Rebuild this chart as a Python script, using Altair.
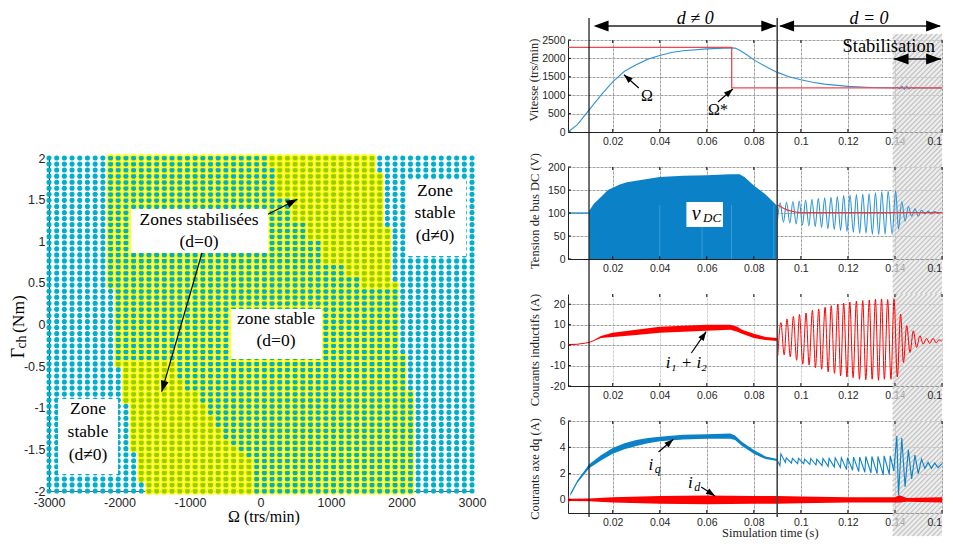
import math
import altair as alt
import pandas as pd

# ---------- left panel data ----------
omega_grid = [-3000,-2891,-2782,-2673,-2564,-2455,-2345,-2236,-2127,-2018,-1909,-1800,-1691,-1582,-1473,-1364,-1255,-1145,-1036,-927,-818,-709,-600,-491,-382,-273,-164,-55,55,164,273,382,491,600,709,818,927,1036,1145,1255,1364,1473,1582,1691,1800,1909,2018,2127,2236,2345,2455,2564,2673,2782,2891,3000]
gamma_grid = [2.0,1.927,1.855,1.782,1.709,1.636,1.564,1.491,1.418,1.345,1.273,1.2,1.127,1.055,0.982,0.909,0.836,0.764,0.691,0.618,0.545,0.473,0.4,0.327,0.255,0.182,0.109,0.036,-0.036,-0.109,-0.182,-0.255,-0.327,-0.4,-0.473,-0.545,-0.618,-0.691,-0.764,-0.836,-0.909,-0.982,-1.055,-1.127,-1.2,-1.273,-1.345,-1.418,-1.491,-1.564,-1.636,-1.709,-1.782,-1.855,-1.927,-2.0]
# per row (top to bottom): first and last stable column of the yellow zone
yellow_first = [8]*22 + [9]*13 + [10]*6 + [11]*8 + [12]*5 + [13]*2
yellow_last = [42]*3 + [43]*9 + [44]*9 + [45]*12 + [46]*6 + [47]*17
# upper green zone: row -> first column (last = yellow_last)
green_up_first = [29,29,30,30,30,30,30,32,32,32,32,34,34,34,36,36,36,36,39,39,41,41]
# lower green zone: rows 34..55 -> last column (first = yellow_first)
green_low_last = [16,16,16,17,17,19,19,20,20,21,21,22,22,23,24,25,26,26,26,26,26,26]

# ---------- right panel data ----------
omega_t = [0.001,0.005,0.01,0.015,0.02,0.025,0.03,0.035,0.04,0.045,0.05,0.06,0.07,0.072,0.074,0.077,0.08,0.085,0.09,0.095,0.1,0.105,0.11,0.12,0.13,0.14,0.141,0.142,0.143,0.144,0.145,0.146,0.147,0.148,0.149,0.15,0.16]
omega_v = [0,200,600,1000,1360,1650,1830,1980,2080,2160,2210,2260,2285,2280,2220,2100,1960,1780,1620,1500,1420,1350,1300,1240,1210,1195,1215,1175,1240,1160,1240,1170,1220,1180,1210,1195,1195]
ref_t = [0.001,0.0706,0.0706,0.16]
ref_v = [2300,2300,1200,1200]

vdc_flat_t = [0.001,0.01]
vdc_flat_v = [100,100]
vdc_env_t = [0.01,0.012,0.015,0.018,0.02,0.023,0.026,0.03,0.04,0.05,0.06,0.07,0.074,0.076,0.08,0.085,0.09]
vdc_env_v = [105,120,135,150,155,162,167,170,178,181,182,184,184,178,160,140,115]
vdc_light_t = [0.04,0.058,0.0705,0.0885]
vdc_pk_t = [0.0912,0.0939,0.0966,0.0993,0.102,0.1047,0.1074,0.1101,0.1128,0.1155,0.1182,0.1209,0.1236,0.1263,0.129,0.1317,0.1344,0.1371,0.1403,0.1429,0.1457,0.1485,0.1513,0.1541,0.1569,0.1597]
vdc_pk_v = [122,124,125,126,128,130,132,133,134,136,138,139,140,141,142,144,146,147,148,125,114,109,106,104,103,102]
vdc_tr_t = [0.09,0.0926,0.0953,0.098,0.1007,0.1034,0.1061,0.1088,0.1115,0.1142,0.1169,0.1196,0.1223,0.125,0.1277,0.1304,0.1331,0.1358,0.1388,0.1415,0.1443,0.1471,0.1499,0.1527,0.1555,0.1583]
vdc_tr_v = [82,80,78,76,74,72,70,68,66,64,62,60,58,56,56,54,53,54,54,65,82,93,93,98,98,99]
vdc_ref_t = [0.09,0.092,0.094,0.096,0.098,0.1,0.16]
vdc_ref_v = [118,112,107,104,102,101,101]

il_t = [0.001,0.005,0.01,0.012,0.015,0.02,0.03,0.04,0.05,0.06,0.07,0.073,0.075,0.08,0.085,0.09]
il_up = [0.5,0.7,1.5,2.5,4.5,6,7.5,9,9.5,10,10,9,7.5,5.5,4,3.5]
il_lo = [-0.1,0.2,1,2,3.5,4,5,6,6.5,7,7.5,6.5,5.5,3.5,2.5,2]
il_pk_t = [0.0915,0.0941,0.0968,0.0994,0.1022,0.1049,0.1076,0.1103,0.1129,0.1157,0.1182,0.1208,0.1236,0.1263,0.1291,0.1317,0.1343,0.1369,0.1396,0.1424,0.145,0.1478,0.1506,0.1534,0.1562,0.1587]
il_pk_v = [11,12.8,14,15,15.7,17,17.7,18.5,19.3,20,20.5,21,21.5,21.8,22,22.4,22.6,22.3,22.5,15.2,9.5,7,4.6,3.3,3.3,2.6]
il_tr_t = [0.0902,0.0929,0.0955,0.0982,0.1008,0.1035,0.1062,0.1088,0.1116,0.1143,0.1169,0.1196,0.1222,0.1249,0.1276,0.1303,0.133,0.1355,0.1383,0.141,0.1436,0.1464,0.1492,0.152,0.1548,0.1575,0.16]
il_tr_v = [-5.2,-4.8,-5.7,-7.4,-9.3,-9.7,-11,-11.8,-13,-13.8,-15,-15.6,-15.9,-16.7,-16.9,-16.7,-17.2,-16.7,-16.7,-15.6,-8.5,-3.6,-1.1,0.5,0.8,1.1,1.8]

iq_t = [0.002,0.005,0.01,0.015,0.02,0.025,0.03,0.035,0.04,0.05,0.06,0.07,0.072,0.075,0.08,0.085,0.09]
iq_up = [0.5,1.5,2.7,3.4,3.95,4.3,4.55,4.7,4.8,4.95,5,5.05,4.9,4.4,3.8,3.3,3.1]
iq_lo = [0.3,1.3,2.4,3.0,3.5,3.85,4.1,4.3,4.45,4.6,4.65,4.65,4.55,4.1,3.5,3.1,2.95]
iq_pk_t = [0.0915,0.0938,0.0964,0.099,0.1016,0.1042,0.1068,0.1094,0.112,0.1146,0.1172,0.1198,0.1224,0.125,0.1276,0.1302,0.1328,0.1354,0.138,0.1408,0.1429,0.1457,0.1485,0.1513,0.1541,0.1569,0.16]
iq_pk_v = [3.5,3.2,3.15,3.15,3.1,3.15,3.1,3.15,3.15,3.2,3.2,3.2,3.25,3.25,3.3,3.3,3.3,3.35,3.35,4.85,4.7,3.8,3.4,3.1,2.85,2.8,2.75]
iq_tr_t = [0.09,0.0911,0.0934,0.096,0.0986,0.1012,0.1038,0.1064,0.109,0.1116,0.1142,0.1168,0.1194,0.122,0.1246,0.1272,0.1298,0.1324,0.135,0.1376,0.1395,0.1415,0.1443,0.1471,0.1499,0.1527,0.1555,0.1583]
iq_tr_v = [3.0,2.6,2.85,2.8,2.75,2.75,2.7,2.65,2.6,2.55,2.5,2.45,2.3,2.25,2.15,2.1,2.05,2.0,1.9,1.95,2.2,0.35,1.0,1.6,2.0,2.4,2.4,2.45]
id_t = [0.001,0.0012,0.0016,0.01,0.02,0.04,0.06,0.08,0.09,0.1,0.12,0.14,0.142,0.145,0.16]
id_up = [0.05,0.4,0.08,0.1,0.2,0.3,0.33,0.3,0.3,0.25,0.2,0.2,0.35,0.15,0.2]
id_lo = [-0.05,-0.4,-0.08,-0.1,-0.2,-0.3,-0.33,-0.3,-0.3,-0.25,-0.2,-0.2,-0.2,-0.15,-0.2]

BLUE = "#0B82C8"; LINE = "#2E93D6"; RED = "#FF0000"; REF = "#F2454A"
CYAN = "#00AFCB"; GREEN = "#99CC00"; YEL = "#FFFF00"
SERIF = "Liberation Serif"; SANS = "Liberation Sans"
DARK = "#262626"

def zig(t1, v1, t2, v2):
    pts = sorted(zip(list(t1) + list(t2), list(v1) + list(v2)))
    return pd.DataFrame({"x": [p[0] for p in pts], "y": [p[1] for p in pts]})

class P:
    """A panel: converts reference pixels for the annotations into its own data units."""
    def __init__(s, xdom, ydom, x0, x1, top, bot, ax, ay, dw, dh):
        s.xdom, s.ydom, s.x0, s.x1, s.top, s.bot = xdom, ydom, x0, x1, top, bot
        s.xs = alt.Scale(domain=xdom, nice=False, zero=False)
        s.ys = alt.Scale(domain=ydom, nice=False, zero=False)
        s.w, s.h = x1 - x0, bot - top
        s.dw, s.dh = dw, dh
        s.ax, s.ay = ax, ay
    def xv(s, px): return s.xdom[0] + (px - s.x0) / s.w * (s.xdom[1] - s.xdom[0])
    def yv(s, py): return s.ydom[0] + (s.bot - py) / s.h * (s.ydom[1] - s.ydom[0])
    def X(s): return alt.X("x:Q", scale=s.xs, axis=s.ax, title=None)
    def Y(s): return alt.Y("y:Q", scale=s.ys, axis=s.ay, title=None)
    def rule(s, x1, y1, x2, y2, color="black", width=1.0):
        df = pd.DataFrame({"x": [s.xv(x1)], "y": [s.yv(y1)], "x2": [s.xv(x2)], "y2": [s.yv(y2)]})
        return alt.Chart(df).mark_rule(color=color, strokeWidth=width).encode(
            x=s.X(), y=s.Y(), x2=alt.X2("x2:Q"), y2=alt.Y2("y2:Q"))
    def rect(s, x1, y1, x2, y2, color="white", opacity=1.0):
        df = pd.DataFrame({"x": [s.xv(x1)], "y": [s.yv(y1)], "x2": [s.xv(x2)], "y2": [s.yv(y2)]})
        return alt.Chart(df).mark_rect(color=color, opacity=opacity).encode(
            x=s.X(), y=s.Y(), x2=alt.X2("x2:Q"), y2=alt.Y2("y2:Q"))
    def text(s, px, py, t, size=12, font=SERIF, style="normal", angle=0, color="black", align="center"):
        df = pd.DataFrame({"x": [s.xv(px)], "y": [s.yv(py)], "t": [t]})
        return alt.Chart(df).mark_text(fontSize=size, font=font, fontStyle=style, angle=angle,
                                       color=color, align=align, baseline="middle").encode(
            x=s.X(), y=s.Y(), text="t:N")
    def head(s, x1, y1, x2, y2, length=9, color="black"):
        a = math.degrees(math.atan2(x2 - x1, -(y2 - y1))) % 360
        n = math.hypot(x2 - x1, y2 - y1)
        cx, cy = x2 - (x2 - x1) / n * length / 2, y2 - (y2 - y1) / n * length / 2
        df = pd.DataFrame({"x": [s.xv(cx)], "y": [s.yv(cy)]})
        return alt.Chart(df).mark_point(shape="M0,-1L0.72,1L-0.72,1Z", filled=True, opacity=1,
                                        color=color, size=length * length, angle=a).encode(x=s.X(), y=s.Y())
    def arrow(s, x1, y1, x2, y2, length=9, width=1.2):
        return [s.rule(x1, y1, x2, y2, width=width), s.head(x1, y1, x2, y2, length)]

# ---------- left panel ----------
PLAIN = "''+datum.value"
l_axis_x = alt.Axis(values=[-3000,-2000,-1000,0,1000,2000,3000], grid=False, tickSize=0, labelPadding=5,
                    labelFont=SANS, labelFontSize=12.5, labelColor=DARK, domainColor="#666666", labelFlush=False, labelExpr=PLAIN)
l_axis_y = alt.Axis(values=[-2,-1.5,-1,-0.5,0,0.5,1,1.5,2], grid=False, tickSize=0, labelPadding=4,
                    labelFont=SANS, labelFontSize=12.5, labelColor=DARK, domainColor="#222222", labelExpr=PLAIN)
L = P([-3000, 3000], [-2, 2], 50, 473, 157, 490, l_axis_x, l_axis_y, 423, 333)
cells = {"cyan": [], "yellow": [], "green": []}
for j, g in enumerate(gamma_grid):
    for k, o in enumerate(omega_grid):
        inside = yellow_first[j] <= k <= yellow_last[j]
        green = False
        if inside and j < len(green_up_first) and k >= green_up_first[j]:
            green = True
        if inside and j >= 34 and k <= green_low_last[j - 34]:
            green = True
        if inside:
            cells["yellow"].append((o, g))
        cells["green" if green else "cyan"].append((o, g))
frames = {c: pd.DataFrame(v, columns=["x", "y"]) for c, v in cells.items()}

left_layers = [
    alt.Chart(frames["yellow"]).mark_circle(color=YEL, size=60, opacity=1).encode(x=L.X(), y=L.Y()),
    alt.Chart(frames["cyan"]).mark_circle(color=CYAN, size=26, opacity=1).encode(x=L.X(), y=L.Y()),
    alt.Chart(frames["green"]).mark_circle(color=GREEN, size=26, opacity=1).encode(x=L.X(), y=L.Y()),
    alt.Chart(frames["yellow"]).mark_tick(color=YEL, orient="horizontal", size=6, thickness=1.4, yOffset=-2.6, opacity=1).encode(x=L.X(), y=L.Y()),
    L.rect(132, 208, 269, 252), L.rect(232, 308, 323, 358), L.rect(407, 179, 467, 255), L.rect(59, 398, 119, 473),
]
left_layers += L.arrow(203, 252, 162.7, 390.7, length=11) + L.arrow(269, 213.3, 298.3, 198.3, length=11)
for px, py, t in [(200, 219, "Zones stabilisées"), (200, 241, "(d=0)"), (277, 318, "zone stable"), (277, 340, "(d=0)"),
                  (436, 190, "Zone"), (436, 212, "stable"), (436, 235, "(d≠0)"),
                  (89, 408, "Zone"), (89, 431, "stable"), (89, 454, "(d≠0)")]:
    left_layers.append(L.text(px, py, t, size=17.5))
left_layers += [L.text(265, 516, "Ω (trs/min)", size=16),
                L.text(20, 352, "Γ", size=18, angle=270), L.text(23, 341, "ch", size=14, angle=270), L.text(20, 313, "(Nm)", size=17.5, angle=270)]
left = alt.layer(*left_layers).properties(width=L.dw, height=L.dh)

# ---------- right panels ----------
XT = [0.02,0.04,0.06,0.08,0.1,0.12,0.14,0.16]
# the last time label is cut by the picture's edge in the original
LAST_LABEL = "0.1"

def panel(ydom, top, bot, yt, hatch_top, hatch_bot, vtop, vbot, label, label_y, grid_x="#a0a0a0"):
    ax = alt.Axis(values=XT, labelExpr="datum.value==0.16?'':''+datum.value", grid=True, gridColor=grid_x, gridWidth=1, gridDash=[3, 1], tickSize=0,
                  labelPadding=4, labelFont=SANS, labelFontSize=10.5, labelColor=DARK, domainColor="#222222", labelFlush=False, labelOverlap=False)
    ay = alt.Axis(values=yt, labelExpr=PLAIN, grid=True, gridColor="#a0a0a0", gridWidth=1, gridDash=[3, 1], tickSize=0,
                  labelPadding=3, labelFont=SANS, labelFontSize=10.5, labelColor=DARK, domainColor="#222222", labelOverlap=False)
    p = P([0.001, 0.16], ydom, 570, 949, top, bot, ax, ay, 374, 92)
    ls = [p.rect(899, hatch_top, 949, hatch_bot, color="#e2e2e2", opacity=0.6)]
    # diagonal hatching of the stabilisation window
    c = 899 + hatch_top
    while c < 949 + hatch_bot:
        x1 = max(899, c - hatch_bot); y1 = c - x1
        x2 = min(949, c - hatch_top); y2 = c - x2
        if x2 > x1:
            ls.append(p.rule(x1, y1, x2, y2, color="#c4c4c4", width=1.1))
        c += 5
    tail = []
    for v in XT:
        px = 570 + (v - 0.001) / 0.159 * 379
        tail.append(p.rule(px, bot, px, bot - 3, color="#111111"))
        tail.append(p.rule(px, top, px, top + 3, color="#111111"))
    for v in yt:
        py = bot - (v - ydom[0]) / (ydom[1] - ydom[0]) * p.h
        tail.append(p.rule(570, py, 573, py, color="#111111"))
    tail.append(p.rule(591.3, vtop, 591.3, vbot, color="#111111", width=1.2))
    tail.append(p.rule(782, vtop, 782, vbot, color="#444444", width=1.6))
    tail.append(p.text(label_y[0], label_y[1], label, size=12.5, angle=270, color="#222222"))
    tail.append(p.text(949, bot + 10, LAST_LABEL, size=10.5, font=SANS, color=DARK, align="right"))
    return p, ls, tail

def line(p, df, color=LINE, width=1.0, interpolate="linear"):
    return alt.Chart(df).mark_line(color=color, strokeWidth=width, interpolate=interpolate).encode(x=p.X(), y=p.Y(), order=alt.Order("i:Q"))

def frame(t, v):
    return pd.DataFrame({"x": t, "y": v, "i": list(range(len(t)))})

def frame2(df):
    df = df.copy(); df["i"] = range(len(df)); return df

def band(p, t, up, lo, color):
    df = pd.DataFrame({"x": t, "y": up, "y2": lo})
    return alt.Chart(df).mark_area(color=color, opacity=1).encode(x=p.X(), y=p.Y(), y2=alt.Y2("y2:Q"))

# panel 1
p1, a1, z1 = panel([0, 2500], 38, 130, [0,500,1000,1500,2000,2500], 32, 165, 16, 165, "Vitesse (trs/min)", (536, 78))
a1 += [line(p1, frame(omega_t, omega_v), color=LINE, width=1.1), line(p1, frame(ref_t, ref_v), color=REF, width=1.3)]
z1 += [p1.rule(602, 24, 781, 24, color="#222222", width=1.3), p1.head(610, 24, 596, 24, 15), p1.head(765, 24, 781, 24, 15),
       p1.rule(785, 24, 947, 24, color="#222222", width=1.3), p1.head(795, 24, 784, 24, 15), p1.head(940, 24, 948, 24, 15),
       p1.rule(900, 57, 948, 57, color="#222222", width=1.3), p1.head(910, 57, 900, 57, 15), p1.head(940, 57, 948, 57, 15),
       p1.text(699, 17, "d ≠ 0", size=18, style="italic"),
       p1.text(875, 17, "d = 0", size=18, style="italic"),
       p1.text(895, 44, "Stabilisation", size=18.5),
       p1.text(650, 94, "Ω", size=16), p1.text(722, 108, "Ω*", size=16)]
z1 += p1.arrow(641.7, 86, 626.7, 72.7) + p1.arrow(722, 100, 737, 87)

# panel 2
p2, a2, z2 = panel([0, 200], 167, 259, [0,50,100,150,200], 167, 294, 167, 294, "Tension de bus DC (V)", (537, 211))
env = pd.DataFrame({"x": vdc_env_t, "y": vdc_env_v, "y2": [0] * len(vdc_env_t)})
a2 += [alt.Chart(env).mark_area(color=BLUE, opacity=1).encode(x=p2.X(), y=p2.Y(), y2=alt.Y2("y2:Q")),
       line(p2, frame(vdc_flat_t, vdc_flat_v), color=BLUE, width=1.2),
       line(p2, frame2(zig(vdc_pk_t, vdc_pk_v, vdc_tr_t, vdc_tr_v)), color=LINE, width=1.1, interpolate="monotone"),
       line(p2, frame(vdc_ref_t, vdc_ref_v), color="#F03A3A", width=1.3)]
for t in vdc_light_t:
    px = 570 + (t - 0.001) / 0.159 * 379
    a2.append(p2.rule(px, 259, px, 205, color="#4FA6DD", width=0.7))
z2 += [p2.rect(690, 202, 727, 227), p2.text(700, 214, "v", size=20, style="italic"), p2.text(716, 218, "DC", size=13, style="italic")]

# panel 3
p3, a3, z3 = panel([-20, 25], 295, 387, [-20,-10,0,10,20], 295, 422, 295, 422, "Courants inductifs (A)", (537, 351), grid_x="#cfcfcf")
a3 += [band(p3, il_t, il_up, il_lo, RED), line(p3, frame2(zig(il_pk_t, il_pk_v, il_tr_t, il_tr_v)), color=RED, width=1.0, interpolate="monotone")]
z3 += [p3.text(690, 364, "i₁ + i₂", size=17, style="italic")] + p3.arrow(695, 354, 710, 332.7)

# panel 4
p4, a4, z4 = panel([-1, 6], 424, 516, [0,2,4,6], 424, 539, 424, 520, "Courants axe dq (A)", (537, 472))
a4 += [band(p4, iq_t, iq_up, iq_lo, BLUE), line(p4, frame2(zig(iq_pk_t, iq_pk_v, iq_tr_t, iq_tr_v)), color=BLUE, width=1.1),
       band(p4, id_t, id_up, id_lo, RED)]
z4 += [p4.text(654, 468, "i", size=17, style="italic"), p4.text(661, 472, "q", size=12, style="italic"),
       p4.text(694, 486, "i", size=17, style="italic"), p4.text(701, 490, "d", size=12, style="italic"),
       p4.text(775, 536, "Simulation time (s)", size=12.5, color="#222222")]
z4 += p4.arrow(661.7, 455, 676.7, 442.3) + p4.arrow(705, 490, 719, 499)

def build(p, a, z):
    return alt.layer(*a, *z).properties(width=p.dw, height=p.dh)

right = alt.vconcat(build(p1, a1, z1), build(p2, a2, z2), build(p3, a3, z3), build(p4, a4, z4), spacing=35, bounds="flush")

spacer = alt.Chart(pd.DataFrame({"x": [0], "y": [0]})).mark_point(opacity=0).encode(
    x=alt.X("x:Q", axis=None), y=alt.Y("y:Q", axis=None)).properties(width=L.dw, height=87)
leftcol = alt.vconcat(spacer, left, spacing=31, bounds="flush")

chart = alt.hconcat(leftcol, right, spacing=42).properties(
    padding={"left": 2, "top": 2, "right": 0, "bottom": 0}
).configure_view(stroke=None)

chart.save("out.html", embed_options={"renderer": "svg", "actions": False})
